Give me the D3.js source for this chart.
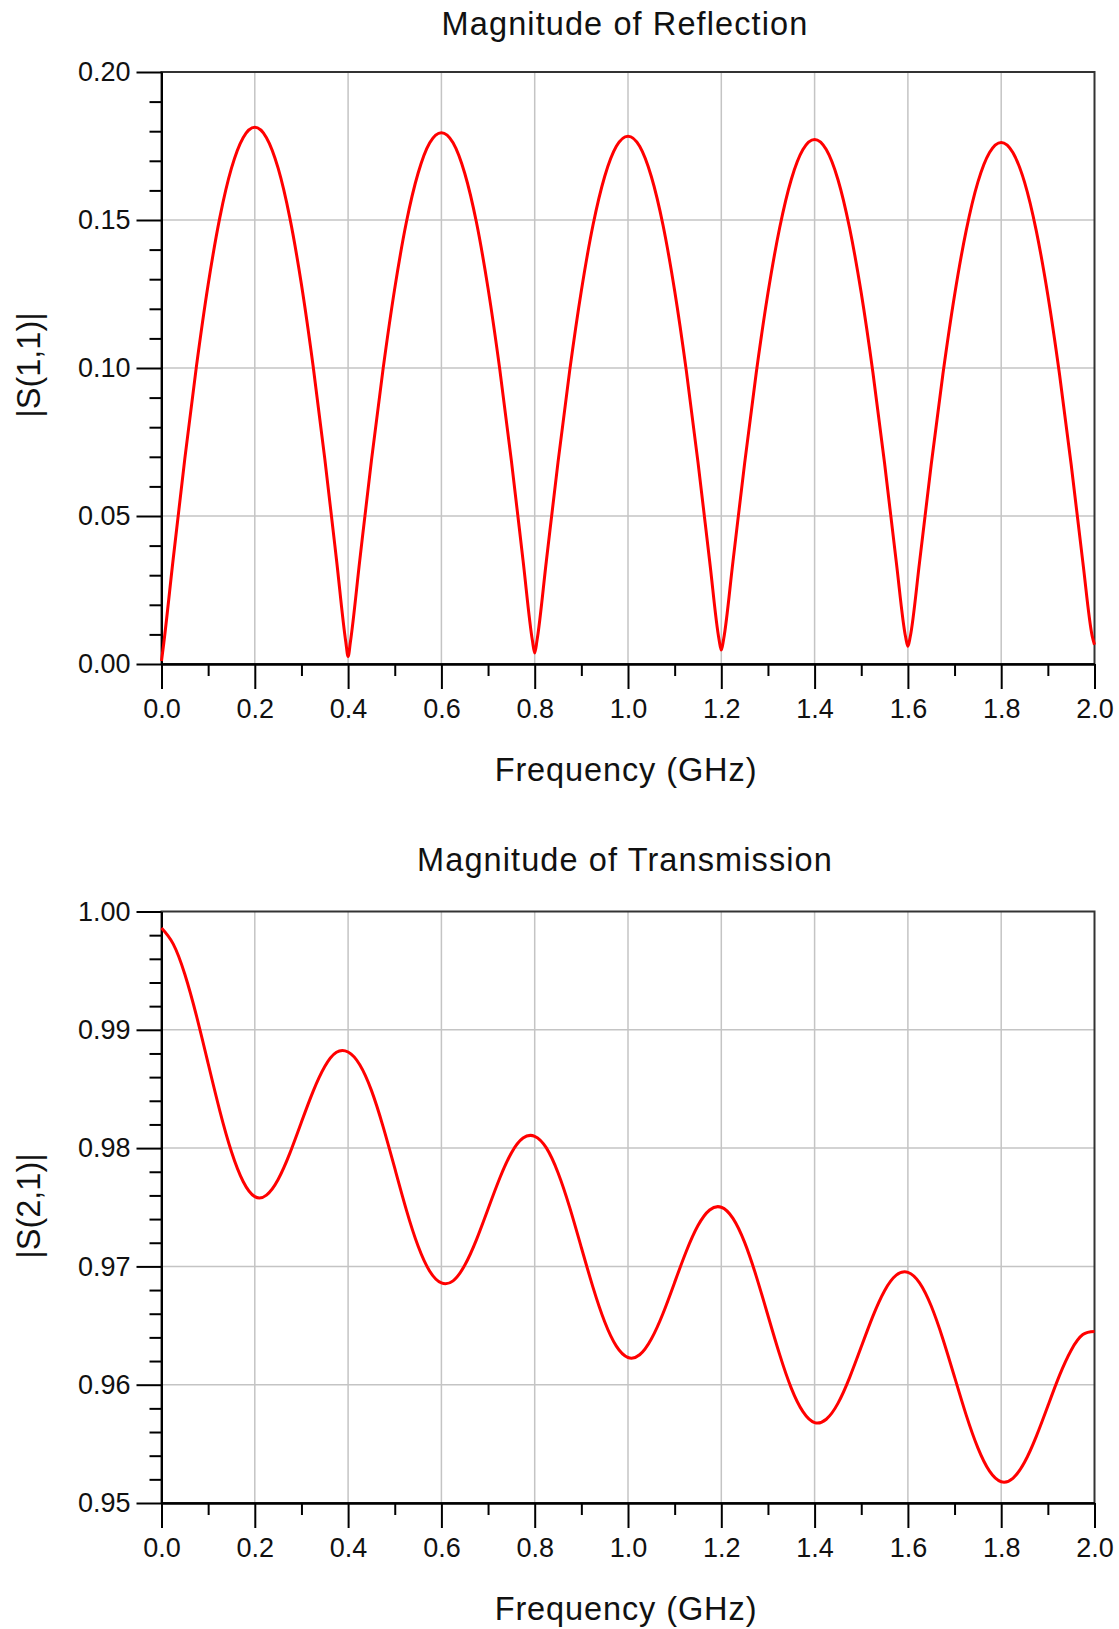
<!DOCTYPE html>
<html>
<head>
<meta charset="utf-8">
<script src="https://cdn.jsdelivr.net/npm/d3@7"></script>
<style>
  body { margin: 0; background: #fff; }
  text { font-family: "Liberation Sans", Arial, sans-serif; }
</style>
</head>
<body>
<div id="main"></div>
<script>
// frequency axis, GHz
const freqTicks = [0.0, 0.2, 0.4, 0.6, 0.8, 1.0, 1.2, 1.4, 1.6, 1.8, 2.0];
const freqMinorTicks = [0.1, 0.3, 0.5, 0.7, 0.9, 1.1, 1.3, 1.5, 1.7, 1.9];

const s11Ticks = [0.00, 0.05, 0.10, 0.15, 0.20];
const s11MinorTicks = [0.01, 0.02, 0.03, 0.04, 0.06, 0.07, 0.08, 0.09, 0.11, 0.12, 0.13, 0.14, 0.16, 0.17, 0.18, 0.19];
const s21Ticks = [0.95, 0.96, 0.97, 0.98, 0.99, 1.00];
const s21MinorTicks = [0.952, 0.954, 0.956, 0.958, 0.962, 0.964, 0.966, 0.968, 0.972, 0.974, 0.976, 0.978,
    0.982, 0.984, 0.986, 0.988, 0.992, 0.994, 0.996, 0.998];

// |S(1,1)|
const s11Freq = [
    0, 0.005, 0.025, 0.05, 0.075, 0.1, 0.125, 0.15, 0.175, 0.2, 0.225, 0.25, 0.275, 0.3, 0.325, 0.35, 0.375, 0.395,
    0.4, 0.405, 0.425, 0.45, 0.475, 0.5, 0.525, 0.55, 0.575, 0.6, 0.625, 0.65, 0.675, 0.7, 0.725, 0.75, 0.775, 0.795,
    0.8, 0.805, 0.825, 0.85, 0.875, 0.9, 0.925, 0.95, 0.975, 1.0, 1.025, 1.05, 1.075, 1.1, 1.125, 1.15, 1.175, 1.195,
    1.2, 1.205, 1.225, 1.25, 1.275, 1.3, 1.325, 1.35, 1.375, 1.4, 1.425, 1.45, 1.475, 1.5, 1.525, 1.55, 1.575, 1.595,
    1.6, 1.605, 1.625, 1.65, 1.675, 1.7, 1.725, 1.75, 1.775, 1.8, 1.825, 1.85, 1.875, 1.9, 1.925, 1.95, 1.975, 1.995,
    2.0];
const s11Mag = [
    0.0010, 0.0072, 0.0354, 0.0694, 0.1007, 0.1282, 0.1508, 0.1675, 0.1778, 0.1813, 0.1778, 0.1675, 0.1508, 0.1282, 0.1007, 0.0694, 0.0354, 0.0075,
    0.0025, 0.0075, 0.0350, 0.0687, 0.0997, 0.1269, 0.1493, 0.1658, 0.1761, 0.1795, 0.1761, 0.1658, 0.1493, 0.1269, 0.0997, 0.0687, 0.0350, 0.0080,
    0.0037, 0.0080, 0.0348, 0.0682, 0.0991, 0.1261, 0.1483, 0.1647, 0.1749, 0.1783, 0.1749, 0.1647, 0.1483, 0.1261, 0.0991, 0.0682, 0.0348, 0.0084,
    0.0047, 0.0084, 0.0346, 0.0678, 0.0985, 0.1253, 0.1473, 0.1637, 0.1738, 0.1772, 0.1738, 0.1637, 0.1473, 0.1253, 0.0985, 0.0678, 0.0346, 0.0092,
    0.0060, 0.0092, 0.0344, 0.0674, 0.0979, 0.1246, 0.1465, 0.1628, 0.1728, 0.1762, 0.1728, 0.1628, 0.1465, 0.1246, 0.0979, 0.0674, 0.0344, 0.0095,
    0.0065];

// |S(2,1)|
const s21Freq = [
    0, 0.025, 0.05, 0.075, 0.1, 0.125, 0.15, 0.175, 0.2, 0.225, 0.25, 0.275, 0.3, 0.325, 0.35, 0.375,
    0.4, 0.425, 0.45, 0.475, 0.5, 0.525, 0.55, 0.575, 0.6, 0.625, 0.65, 0.675, 0.7, 0.725, 0.75, 0.775,
    0.8, 0.825, 0.85, 0.875, 0.9, 0.925, 0.95, 0.975, 1.0, 1.025, 1.05, 1.075, 1.1, 1.125, 1.15, 1.175,
    1.2, 1.225, 1.25, 1.275, 1.3, 1.325, 1.35, 1.375, 1.4, 1.425, 1.45, 1.475, 1.5, 1.525, 1.55, 1.575,
    1.6, 1.625, 1.65, 1.675, 1.7, 1.725, 1.75, 1.775, 1.8, 1.825, 1.85, 1.875, 1.9, 1.925, 1.95, 1.975,
    2.0];
const s21Mag = [
    0.99860, 0.99726, 0.99469, 0.99117, 0.98715, 0.98315, 0.97969, 0.97718, 0.97590, 0.97603, 0.97735, 0.97955, 0.98220, 0.98480, 0.98690, 0.98810,
    0.98812, 0.98705, 0.98488, 0.98182, 0.97830, 0.97476, 0.97172, 0.96959, 0.96860, 0.96878, 0.97009, 0.97224, 0.97485, 0.97745, 0.97959, 0.98085,
    0.98100, 0.98002, 0.97792, 0.97499, 0.97160, 0.96823, 0.96532, 0.96326, 0.96230, 0.96253, 0.96386, 0.96602, 0.96865, 0.97128, 0.97345, 0.97477,
    0.97500, 0.97406, 0.97203, 0.96916, 0.96585, 0.96256, 0.95971, 0.95772, 0.95680, 0.95708, 0.95842, 0.96060, 0.96320, 0.96580, 0.96795, 0.96926,
    0.96950, 0.96861, 0.96665, 0.96387, 0.96065, 0.95743, 0.95466, 0.95269, 0.95180, 0.95209, 0.95344, 0.95561, 0.95820, 0.96079, 0.96292, 0.96424,
    0.96450];

const W = 1119, H = 1629;
const plotLeft = 161.5, plotRight = 1094.5;
const gridColor = "#c4c4c4";
const inkColor = "#111";

const svg = d3.select("#main")
    .append("svg")
    .attr("width", W)
    .attr("height", H);

function styleAxis(g) {
    g.select(".domain").attr("stroke", "#000").attr("stroke-width", 2);
    g.selectAll(".tick line").attr("stroke", "#000").attr("stroke-width", 2);
    g.selectAll(".tick text").attr("fill", inkColor).attr("font-size", 27)
        .attr("font-family", '"Liberation Sans", Arial, sans-serif');
}

function makePanel(cfg) {
    const x = d3.scaleLinear().domain([0, 2]).range([plotLeft, plotRight]);
    const y = d3.scaleLinear().domain(cfg.yDomain).range([cfg.bottom, cfg.top]);

    const g = svg.append("g");

    // grid
    g.append("g").selectAll("line")
        .data(freqTicks.slice(1, -1))
        .join("line")
        .attr("x1", d => x(d)).attr("x2", d => x(d))
        .attr("y1", cfg.top).attr("y2", cfg.bottom)
        .attr("stroke", gridColor).attr("stroke-width", 1.5);
    g.append("g").selectAll("line")
        .data(cfg.yTicks.slice(1, -1))
        .join("line")
        .attr("x1", plotLeft).attr("x2", plotRight)
        .attr("y1", d => y(d)).attr("y2", d => y(d))
        .attr("stroke", gridColor).attr("stroke-width", 1.5);

    // frame
    g.append("rect")
        .attr("x", plotLeft).attr("y", cfg.top)
        .attr("width", plotRight - plotLeft).attr("height", cfg.bottom - cfg.top)
        .attr("fill", "none").attr("stroke", "#333").attr("stroke-width", 2);

    // x axis, minor then major
    g.append("g")
        .attr("transform", `translate(0, ${cfg.bottom})`)
        .call(d3.axisBottom(x).tickValues(freqMinorTicks).tickSize(12).tickSizeOuter(0).tickFormat(""))
        .call(styleAxis);
    g.append("g")
        .attr("transform", `translate(0, ${cfg.bottom})`)
        .call(d3.axisBottom(x).tickValues(freqTicks).tickSize(25).tickSizeOuter(0)
            .tickPadding(10).tickFormat(d3.format(".1f")))
        .call(styleAxis);

    // y axis
    g.append("g")
        .attr("transform", `translate(${plotLeft}, 0)`)
        .call(d3.axisLeft(y).tickValues(cfg.yMinor).tickSize(12).tickSizeOuter(0).tickFormat(""))
        .call(styleAxis);
    g.append("g")
        .attr("transform", `translate(${plotLeft}, 0)`)
        .call(d3.axisLeft(y).tickValues(cfg.yTicks).tickSize(25).tickSizeOuter(0)
            .tickPadding(6).tickFormat(d3.format(".2f")))
        .call(styleAxis);

    // curve
    const line = d3.line()
        .x((d, i) => x(cfg.freq[i]))
        .y(d => y(d))
        .curve(cfg.curve);
    g.append("path")
        .datum(cfg.mag)
        .attr("d", line)
        .attr("fill", "none")
        .attr("stroke", "#ff0000")
        .attr("stroke-width", 3)
        .attr("stroke-linejoin", "round");

    // labels
    g.append("text")
        .attr("x", 625).attr("y", cfg.titleY)
        .attr("text-anchor", "middle")
        .attr("font-size", 32.5).attr("letter-spacing", 1.1)
        .attr("fill", inkColor)
        .text(cfg.title);
    g.append("text")
        .attr("x", 626).attr("y", cfg.bottom + 117)
        .attr("text-anchor", "middle")
        .attr("font-size", 32.5).attr("letter-spacing", 0.9)
        .attr("fill", inkColor)
        .text("Frequency (GHz)");
    g.append("text")
        .attr("transform", `translate(40, ${cfg.yLabelY}) rotate(-90)`)
        .attr("text-anchor", "middle")
        .attr("font-size", 32.5)
        .attr("fill", inkColor)
        .text(cfg.yLabel);
}

makePanel({
    top: 72, bottom: 664,
    yDomain: [0, 0.20], yTicks: s11Ticks, yMinor: s11MinorTicks,
    freq: s11Freq, mag: s11Mag, curve: d3.curveMonotoneX,
    title: "Magnitude of Reflection", titleY: 35,
    yLabel: "|S(1,1)|", yLabelY: 365
});

makePanel({
    top: 911.5, bottom: 1503,
    yDomain: [0.95, 1.00], yTicks: s21Ticks, yMinor: s21MinorTicks,
    freq: s21Freq, mag: s21Mag, curve: d3.curveNatural,
    title: "Magnitude of Transmission", titleY: 871,
    yLabel: "|S(2,1)|", yLabelY: 1206
});
</script>
</body>
</html>
